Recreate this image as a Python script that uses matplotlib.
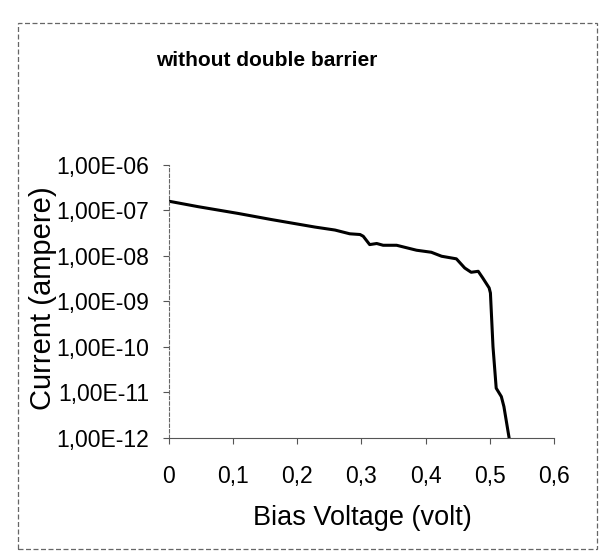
import matplotlib.pyplot as plt
from matplotlib.patches import Rectangle
from matplotlib.ticker import FixedLocator, FixedFormatter, NullLocator

plt.rcParams['font.family'] = ['Liberation Sans', 'DejaVu Sans']

# bias voltage (V) and current (A)
voltage = [0.0, 0.046, 0.108, 0.160, 0.228, 0.259, 0.282, 0.298, 0.303, 0.313,
           0.324, 0.334, 0.355, 0.386, 0.409, 0.425, 0.448, 0.461, 0.471, 0.482,
           0.489, 0.499, 0.501, 0.505, 0.510, 0.518, 0.522, 0.530]
current = [1.60e-7, 1.21e-7, 8.6e-8, 6.3e-8, 4.3e-8, 3.7e-8, 3.06e-8, 2.95e-8, 2.7e-8, 1.77e-8,
           1.87e-8, 1.71e-8, 1.71e-8, 1.33e-8, 1.20e-8, 9.8e-9, 8.6e-9, 5.4e-9, 4.35e-9, 4.57e-9,
           3.27e-9, 1.97e-9, 1.52e-9, 1.0e-10, 1.22e-11, 7.96e-12, 4.8e-12, 1.0e-12]

x_ticks = [0, 0.1, 0.2, 0.3, 0.4, 0.5, 0.6]
x_labels = ['0', '0,1', '0,2', '0,3', '0,4', '0,5', '0,6']
y_ticks = [1e-12, 1e-11, 1e-10, 1e-9, 1e-8, 1e-7, 1e-6]
y_labels = ['1,00E-12', '1,00E-11', '1,00E-10', '1,00E-09', '1,00E-08', '1,00E-07', '1,00E-06']

fig = plt.figure(figsize=(6.07, 5.56), dpi=100)
ax = fig.add_axes([0.2778, 0.2131, 0.6349, 0.4901])

ax.plot(voltage, current, color='black', linewidth=2.2, solid_joinstyle='round')

ax.set_yscale('log')
ax.set_xlim(0, 0.6)
ax.set_ylim(1e-12, 1e-6)
ax.xaxis.set_major_locator(FixedLocator(x_ticks))
ax.xaxis.set_major_formatter(FixedFormatter(x_labels))
ax.yaxis.set_major_locator(FixedLocator(y_ticks))
ax.yaxis.set_major_formatter(FixedFormatter(y_labels))
ax.yaxis.set_minor_locator(NullLocator())

ax.tick_params(axis='x', direction='out', length=4, width=0.8, color='#555555', pad=16, labelsize=16.5)
ax.tick_params(axis='y', direction='out', length=4, width=0.8, color='#555555', pad=10, labelsize=16.5)

for s in ['top', 'right']:
    ax.spines[s].set_visible(False)
ax.spines['left'].set_color('#666666')
ax.spines['left'].set_linestyle((0, (3, 2)))
ax.spines['left'].set_linewidth(0.8)
ax.spines['bottom'].set_color('#555555')
ax.spines['bottom'].set_linewidth(0.8)

fig.text(267 / 607, 1 - 60 / 556, 'without double barrier', ha='center', va='center',
         fontsize=15, fontweight='bold')
fig.text(362 / 607, 1 - 518 / 556, 'Bias Voltage (volt)', ha='center', va='center', fontsize=19.5)
fig.text(43 / 607, 1 - 298 / 556, 'Current (ampere)', ha='center', va='center',
         rotation=90, fontsize=21)

# dashed frame around the whole chart, as in the scan
fig.patches.append(Rectangle((18 / 607, 1 - 549 / 556), 579 / 607, 526.5 / 556,
                             transform=fig.transFigure, fill=False, edgecolor='#666666',
                             linewidth=0.9, linestyle=(0, (4, 2))))

fig.savefig('out.png', dpi=100)
